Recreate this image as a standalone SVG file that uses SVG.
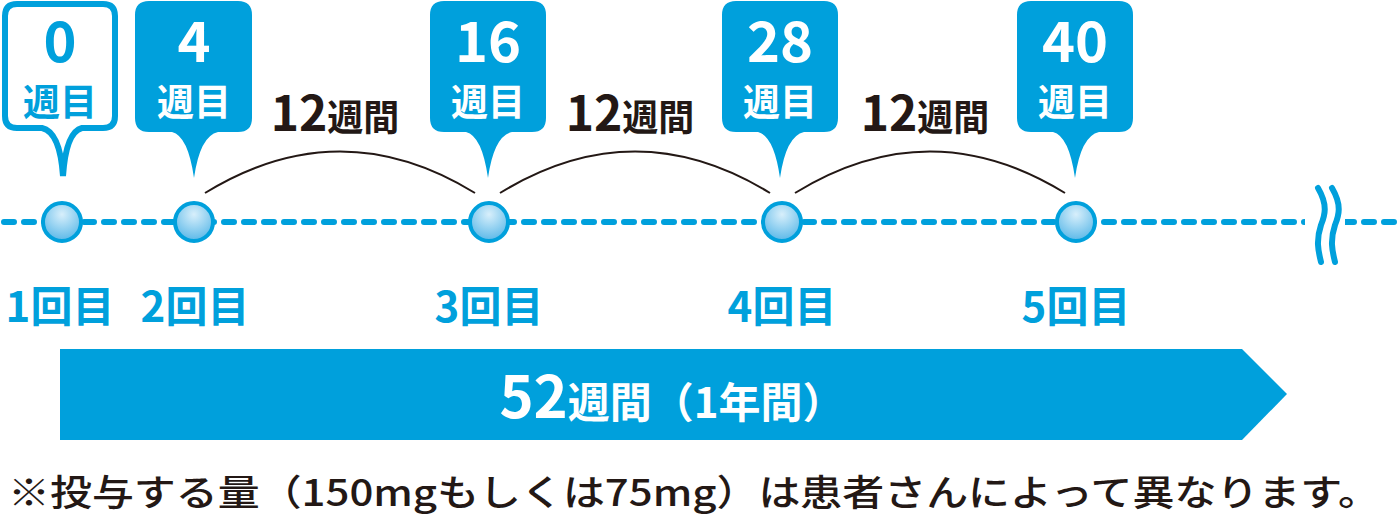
<svg xmlns="http://www.w3.org/2000/svg" width="1399" height="525" viewBox="0 0 1399 525">
<defs>
<style>
.b{fill:#00a0dc}
.t{font-family:"Noto Sans CJK JP","Noto Sans",sans-serif;font-weight:bold}
.w{fill:#fff}
.bl{fill:#00a0dc}
.k{fill:#231815}
.arc{fill:none;stroke:#231815;stroke-width:2}
.n{font-size:56px}
.u{font-size:37px}
</style>
<radialGradient id="g" cx="0.5" cy="0.3" r="0.7"><stop offset="0" stop-color="#d8effb"/><stop offset="1" stop-color="#5ab8e8"/></radialGradient>
</defs>
<g id="connectors">
<line x1="4" y1="222" x2="1399" y2="222" stroke="#00a0dc" stroke-width="6" stroke-dasharray="10 10" stroke-linecap="round"/>
<rect x="1305" y="190" width="40" height="75" fill="#fff"/>
<path d="M1318 188 C1328 205,1325 215,1321 225 C1316 240,1318 250,1321 262 M1332 188 C1342 205,1339 215,1335 225 C1330 240,1332 250,1335 262" fill="none" stroke="#00a0dc" stroke-width="6" stroke-linecap="round"/>
<path class="arc" d="M205 193 Q340 110 475 193"/>
<path class="arc" d="M500 193 Q635 110 770 193"/>
<path class="arc" d="M795 193 Q930 110 1065 193"/>
</g>
<g id="w0"><path d="M17 4 H103 Q115 4 115 16 V116 Q115 128 103 128 H82 Q66 132 63 176 Q60 132 42 128 H17 Q5 128 5 116 V16 Q5 4 17 4Z" fill="#fff" stroke="#00a0dc" stroke-width="6"/>
<text class="t bl n" x="60" y="62" text-anchor="middle">0</text><text class="t bl u" x="60" y="116" text-anchor="middle">週目</text></g>
<g id="w4"><path d="M149 1 H238 Q252 1 252 15 V118 Q252 132 238 132 H218 Q200 136 194 178 Q188 136 172 132 H149 Q135 132 135 118 V15 Q135 1 149 1Z" class="b"/>
<text class="t w n" x="194" y="62" text-anchor="middle">4</text><text class="t w u" x="194" y="116" text-anchor="middle">週目</text></g>
<g id="w16"><path d="M444 1 H532 Q546 1 546 15 V118 Q546 132 532 132 H512 Q494 136 488 178 Q482 136 466 132 H444 Q430 132 430 118 V15 Q430 1 444 1Z" class="b"/>
<text class="t w n" x="488" y="62" text-anchor="middle">16</text><text class="t w u" x="488" y="116" text-anchor="middle">週目</text></g>
<g id="w28"><path d="M736 1 H824 Q838 1 838 15 V118 Q838 132 824 132 H804 Q786 136 780 178 Q774 136 758 132 H736 Q722 132 722 118 V15 Q722 1 736 1Z" class="b"/>
<text class="t w n" x="780" y="62" text-anchor="middle">28</text><text class="t w u" x="780" y="116" text-anchor="middle">週目</text></g>
<g id="w40"><path d="M1031 1 H1119 Q1133 1 1133 15 V118 Q1133 132 1119 132 H1099 Q1081 136 1075 178 Q1069 136 1053 132 H1031 Q1017 132 1017 118 V15 Q1017 1 1031 1Z" class="b"/>
<text class="t w n" x="1075" y="62" text-anchor="middle">40</text><text class="t w u" x="1075" y="116" text-anchor="middle">週目</text></g>
<g id="l1"><text class="t k" x="335" y="131" text-anchor="middle"><tspan font-size="48">12</tspan><tspan font-size="36">週間</tspan></text></g>
<g id="l2"><text class="t k" x="630" y="131" text-anchor="middle"><tspan font-size="48">12</tspan><tspan font-size="36">週間</tspan></text></g>
<g id="l3"><text class="t k" x="925" y="131" text-anchor="middle"><tspan font-size="48">12</tspan><tspan font-size="36">週間</tspan></text></g>
<g id="dots" fill="url(#g)" stroke="#00a0dc" stroke-width="4">
<circle cx="62" cy="222" r="19"/><circle cx="194" cy="222" r="19"/><circle cx="489" cy="222" r="19"/><circle cx="782" cy="222" r="19"/><circle cx="1076" cy="222" r="19"/>
</g>
<g id="counts" class="t bl" font-size="42" text-anchor="middle">
<text x="60" y="322">1回目</text><text x="195" y="322">2回目</text><text x="489" y="322">3回目</text><text x="782" y="322">4回目</text><text x="1076" y="322">5回目</text>
</g>
<g id="bar"><path d="M60 349 H1242 L1287 394 L1242 440 H60Z" class="b"/>
<text class="t w" x="672" y="418" text-anchor="middle"><tspan font-size="58">52</tspan><tspan font-size="42">週間（1年間）</tspan></text></g>
<text class="t k" x="8" y="506" font-size="36" style="font-weight:500" textLength="1372" lengthAdjust="spacingAndGlyphs">※投与する量（150mgもしくは75mg）は患者さんによって異なります。</text>
</svg>
